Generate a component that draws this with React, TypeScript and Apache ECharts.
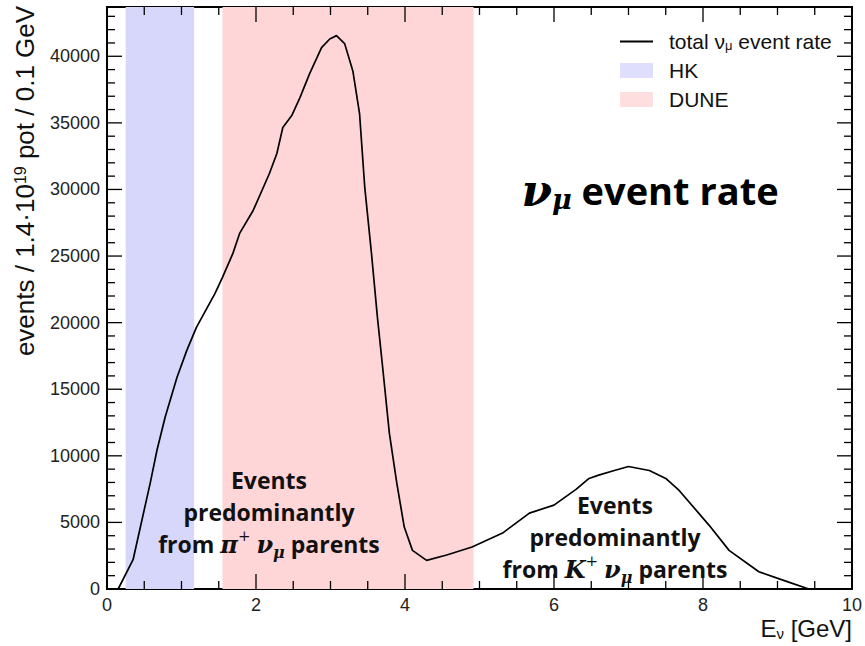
import React, { useEffect, useRef } from "react";
import * as echarts from "echarts";

// Neutrino energy (GeV) and total ν_μ event rate per 0.1 GeV bin
const energy = [
  0.15, 0.35, 0.58, 0.67, 0.78, 0.94, 1.07, 1.2, 1.45, 1.55, 1.69, 1.78, 1.96,
  2.18, 2.28, 2.36, 2.48, 2.59, 2.72, 2.88, 2.99, 3.08, 3.19, 3.3, 3.39, 3.46,
  3.55, 3.63, 3.7, 3.79, 3.89, 3.99, 4.1, 4.29, 4.56, 4.9, 5.31, 5.67, 6.0,
  6.3, 6.47, 6.6, 6.81, 7.0, 7.28, 7.5, 7.68, 8.08, 8.35, 8.75, 9.15, 9.42,
];
const eventRate = [
  0, 2200, 7950, 10400, 12900, 15900, 17900, 19650, 22200, 23400, 25200, 26700,
  28400, 31200, 32700, 34650, 35550, 36900, 38700, 40650, 41300, 41550, 40950,
  38900, 35700, 30150, 25200, 20400, 16650, 11700, 7950, 4650, 2900, 2150, 2550,
  3150, 4200, 5700, 6300, 7500, 8300, 8550, 8900, 9200, 8900, 8300, 7400, 4800,
  2900, 1300, 520, 0,
];

// Energy windows of the two experiments
const hkRange = [0.25, 1.17];
const duneRange = [1.55, 4.92];

const X_MIN = 0;
const X_MAX = 10;
const X_STEP = 2;
const Y_MIN = 0;
const Y_MAX = 43700;
const Y_STEP = 5000;

// Frame tick marks (ROOT style: on all four sides, pointing inwards)
const xMajorTicks = [0, 2, 4, 6, 8, 10];
const xMinorTicks = [0.5, 1, 1.5, 2.5, 3, 3.5, 4.5, 5, 5.5, 6.5, 7, 7.5, 8.5, 9, 9.5];
const yMajorTicks = [0, 5000, 10000, 15000, 20000, 25000, 30000, 35000, 40000];
const yMinorTicks = [
  1000, 2000, 3000, 4000, 6000, 7000, 8000, 9000, 11000, 12000, 13000, 14000,
  16000, 17000, 18000, 19000, 21000, 22000, 23000, 24000, 26000, 27000, 28000,
  29000, 31000, 32000, 33000, 34000, 36000, 37000, 38000, 39000, 41000, 42000,
  43000,
];

const LINE_NAME = "total ν_μ event rate";
const AXIS_FONT = "Liberation Sans";
const NOTE_FONT = "Open Sans";
const MATH_FONT = "DejaVu Serif";

const HK_COLOR = "#d7d7fc";
const DUNE_COLOR = "#ffd6d8";

const MAJOR_LEN = 15;
const MINOR_LEN = 8;
const TICK_W = 1.3;

export default function App() {
  const ref = useRef<HTMLDivElement>(null);

  useEffect(() => {
    if (!ref.current) return;
    const chart = echarts.init(ref.current, undefined, { renderer: "svg" });

    // Each band is a window [lo, hi] on the energy axis, shaded over the full height
    const band = (name: string, range: number[], color: string) => ({
      name,
      type: "scatter",
      symbolSize: 0,
      data: [
        [range[0], 0],
        [range[1], 0],
      ],
      itemStyle: { color },
      markArea: {
        silent: true,
        itemStyle: { color },
        data: [[{ xAxis: range[0] }, { xAxis: range[1] }]],
      },
    });

    const xTickData = [
      ...xMajorTicks.map((v) => [v, Y_MIN, 1]),
      ...xMinorTicks.map((v) => [v, Y_MIN, 0]),
    ];
    const yTickData = [
      ...yMajorTicks.map((v) => [X_MIN, v, 1]),
      ...yMinorTicks.map((v) => [X_MIN, v, 0]),
    ];

    // Tick marks are thin filled bars hanging inwards from the frame
    const tickRect = (x: number, y: number, w: number, h: number) => ({
      type: "rect",
      shape: { x, y, width: w, height: h },
      style: { fill: "#000" },
    });

    const plainAxis = {
      type: "value",
      splitLine: { show: false },
      axisLine: { show: false },
      axisTick: { show: false },
      minorTick: { show: false },
    };

    chart.setOption({
      animation: false,
      textStyle: { fontFamily: AXIS_FONT },
      grid: {
        left: 107,
        right: 12,
        top: 7,
        bottom: 57,
        show: true,
        borderColor: "#000",
        borderWidth: 2,
      },
      xAxis: {
        ...plainAxis,
        min: X_MIN,
        max: X_MAX,
        interval: X_STEP,
        axisLabel: { fontSize: 18, color: "#222", margin: 7 },
      },
      yAxis: {
        ...plainAxis,
        min: Y_MIN,
        max: Y_MAX,
        interval: Y_STEP,
        axisLabel: {
          fontSize: 18,
          color: "#222",
          margin: 7,
          formatter: (v: number) => (v % Y_STEP === 0 ? String(v) : ""),
        },
      },
      legend: {
        orient: "vertical",
        left: 615,
        top: 26,
        itemWidth: 33,
        itemHeight: 15,
        itemGap: 8,
        data: [
          { name: LINE_NAME, icon: "path://M0,0H33V2H0Z", itemStyle: { color: "#000" } },
          { name: "HK", icon: "rect", itemStyle: { color: HK_COLOR } },
          { name: "DUNE", icon: "rect", itemStyle: { color: DUNE_COLOR } },
        ],
        formatter: (name: string) =>
          name === LINE_NAME ? "{t|total ν}{s|μ}{t| event rate}" : `{t|${name}}`,
        textStyle: {
          padding: [0, 0, 0, 11],
          rich: {
            t: { fontSize: 21, fontFamily: AXIS_FONT, color: "#111" },
            s: {
              fontSize: 13,
              fontFamily: AXIS_FONT,
              color: "#111",
              verticalAlign: "bottom",
              padding: [7, 0, 0, 0],
            },
          },
        },
      },
      series: [
        band("HK", hkRange, HK_COLOR),
        band("DUNE", duneRange, DUNE_COLOR),
        {
          name: LINE_NAME,
          type: "line",
          symbol: "none",
          smooth: false,
          data: energy.map((e, i) => [e, eventRate[i]]),
          lineStyle: { color: "#000", width: 1.7 },
          itemStyle: { color: "#000" },
        },
        {
          name: "x ticks",
          type: "custom",
          silent: true,
          clip: false,
          z: 5,
          data: xTickData,
          renderItem: (_params: any, api: any) => {
            const v = api.value(0);
            const len = api.value(2) ? MAJOR_LEN : MINOR_LEN;
            const b = api.coord([v, Y_MIN]);
            const t = api.coord([v, Y_MAX]);
            return {
              type: "group",
              children: [
                tickRect(b[0] - TICK_W / 2, b[1] - len, TICK_W, len),
                tickRect(t[0] - TICK_W / 2, t[1], TICK_W, len),
              ],
            };
          },
        },
        {
          name: "y ticks",
          type: "custom",
          silent: true,
          clip: false,
          z: 5,
          data: yTickData,
          renderItem: (_params: any, api: any) => {
            const v = api.value(1);
            const len = api.value(2) ? MAJOR_LEN : MINOR_LEN;
            const l = api.coord([X_MIN, v]);
            const r = api.coord([X_MAX, v]);
            return {
              type: "group",
              children: [
                tickRect(l[0], l[1] - TICK_W / 2, len, TICK_W),
                tickRect(r[0] - len, r[1] - TICK_W / 2, len, TICK_W),
              ],
            };
          },
        },
      ],
      graphic: [
        {
          type: "text",
          x: 25,
          y: 181,
          rotation: Math.PI / 2,
          style: {
            text: "{a|events / 1.4·10}{s|19}{a| pot / 0.1 GeV}",
            align: "center",
            verticalAlign: "middle",
            rich: {
              a: { fontSize: 26, fontFamily: AXIS_FONT, fill: "#111" },
              s: { fontSize: 16, fontFamily: AXIS_FONT, fill: "#111", verticalAlign: "top" },
            },
          },
        },
        {
          type: "text",
          x: 852,
          y: 628,
          style: {
            text: "{a|E}{s|ν}{a| [GeV]}",
            align: "right",
            verticalAlign: "middle",
            rich: {
              a: { fontSize: 24, fontFamily: AXIS_FONT, fill: "#111" },
              s: {
                fontSize: 15,
                fontFamily: AXIS_FONT,
                fill: "#111",
                verticalAlign: "bottom",
                padding: [10, 0, 0, 0],
              },
            },
          },
        },
        {
          type: "text",
          x: 650,
          y: 190,
          z: 10,
          style: {
            text: "{n|ν}{s|μ}{t| event rate}",
            align: "center",
            verticalAlign: "middle",
            rich: {
              n: {
                fontSize: 44,
                fontFamily: MATH_FONT,
                fontStyle: "italic",
                fontWeight: "bold",
                fill: "#000",
              },
              s: {
                fontSize: 27,
                fontFamily: MATH_FONT,
                fontStyle: "italic",
                fontWeight: "bold",
                fill: "#000",
                verticalAlign: "bottom",
                padding: [19, 0, 0, 0],
              },
              t: { fontSize: 38, fontFamily: NOTE_FONT, fontWeight: "bold", fill: "#000" },
            },
          },
        },
        ...[
          { x: 269, y: 464, parent: "π" },
          { x: 615, y: 489, parent: "K" },
        ].map((n) => ({
          type: "text",
          x: n.x,
          y: n.y,
          z: 10,
          style: {
            text: `{b|Events}\n{b|predominantly}\n{b|from }{m|${n.parent}}{u|+}{b| }{m|ν}{d|μ}{b| parents}`,
            align: "center",
            verticalAlign: "top",
            rich: {
              b: { fontSize: 23, fontFamily: NOTE_FONT, fontWeight: "bold", fill: "#111", lineHeight: 32 },
              m: {
                fontSize: 24,
                fontFamily: MATH_FONT,
                fontStyle: "italic",
                fontWeight: "bold",
                fill: "#111",
                lineHeight: 32,
              },
              u: { fontSize: 15, fontFamily: MATH_FONT, fill: "#111", verticalAlign: "top", lineHeight: 32 },
              d: {
                fontSize: 16,
                fontFamily: MATH_FONT,
                fontStyle: "italic",
                fontWeight: "bold",
                fill: "#111",
                verticalAlign: "bottom",
                lineHeight: 32,
              },
            },
          },
        })),
      ],
    });

    return () => chart.dispose();
  }, []);

  return (
    <div ref={ref} style={{ position: "absolute", left: 0, top: 0, width: 865, height: 646 }} />
  );
}
